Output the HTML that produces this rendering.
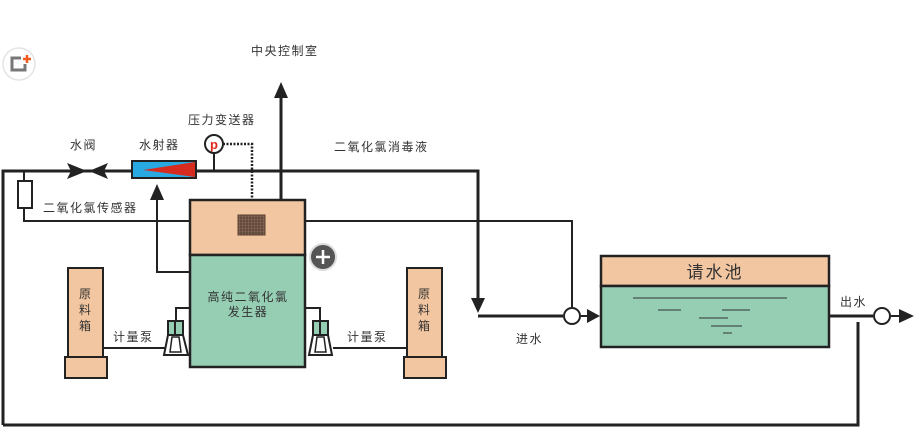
<!DOCTYPE html>
<html><head><meta charset="utf-8"><style>
body{margin:0;background:#fff;width:917px;height:432px;overflow:hidden}
svg{display:block}
text{font-family:"Liberation Sans","Noto Sans CJK SC",sans-serif;fill:#333;font-size:12px;letter-spacing:1.5px}
</style></head><body>
<svg width="917" height="432" viewBox="0 0 917 432">
<g stroke="#222" fill="none" stroke-width="3">
<path d="M3,425 V171 H478 V306"/>
<path d="M478,316 H563"/>
<path d="M3,425 H858 V322"/>
<path d="M829,316 H873"/>
<path d="M281,200 V95"/>
</g>
<g stroke="#222" fill="none" stroke-width="2">
<path d="M24,171 V181 M24,208 V221 H190"/>
<path d="M305,221 H572 V307"/>
<path d="M190,272 H157 V195"/>
<path d="M214,153 V171"/>
<path d="M190,308 H176 V321"/>
<path d="M305,308 H320 V321"/>
<path d="M103,348 H165 M407,348 H333"/>
<path d="M581,316 H588 M891,316 H900"/>
</g>
<path d="M223,144 H252 V200" stroke="#222" stroke-width="2.5" stroke-dasharray="2,1.5" fill="none"/>
<g fill="#222">
<polygon points="281,82 274,98 288,98"/>
<polygon points="157,184 150,200 164,200"/>
<polygon points="478,313 471,298 485,298"/>
<polygon points="600,316 587,309 587,323"/>
<polygon points="914,316 899,309 899,323"/>
<polygon points="87,171 67,163 71,171 67,179"/>
<polygon points="89,171 108,163 104,171 108,179"/>
</g>
<rect x="132" y="161" width="64" height="17" fill="#29a9e1" stroke="#222" stroke-width="2"/>
<polygon points="143,170 195,162 195,177" fill="#d62b1e"/>
<circle cx="214" cy="144" r="9" fill="#fff" stroke="#222" stroke-width="2"/>
<text x="214" y="149" text-anchor="middle" style="fill:#e0281b;font-weight:bold;font-size:13px;letter-spacing:0">p</text>
<rect x="18" y="181" width="14" height="27" fill="#fff" stroke="#222" stroke-width="2"/>
<rect x="190" y="200" width="115" height="55" fill="#f2c6a0" stroke="#222" stroke-width="2.5"/>
<rect x="190" y="255" width="115" height="112" fill="#96ceb4" stroke="#222" stroke-width="2.5"/>
<rect x="238" y="215" width="27" height="20" fill="#8a6a58" stroke="#5a4030" stroke-width="1"/>
<path d="M241,215V235M244,215V235M247,215V235M250,215V235M253,215V235M256,215V235M259,215V235M262,215V235M238,218H265M238,221H265M238,224H265M238,227H265M238,230H265M238,233H265" stroke="#3a2a20" stroke-width="0.6"/>
<text x="248" y="301" text-anchor="middle">高纯二氧化氯</text>
<text x="248" y="316" text-anchor="middle">发生器</text>
<rect x="68" y="268" width="35" height="89" fill="#f2c6a0" stroke="#222" stroke-width="2"/>
<rect x="65" y="357" width="42" height="21" fill="#f2c6a0" stroke="#222" stroke-width="2"/>
<rect x="407" y="268" width="35" height="89" fill="#f2c6a0" stroke="#222" stroke-width="2"/>
<rect x="404" y="357" width="42" height="21" fill="#f2c6a0" stroke="#222" stroke-width="2"/>
<text x="85" y="298" text-anchor="middle" style="letter-spacing:0">原</text>
<text x="85" y="314" text-anchor="middle" style="letter-spacing:0">料</text>
<text x="85" y="330" text-anchor="middle" style="letter-spacing:0">箱</text>
<text x="424" y="298" text-anchor="middle" style="letter-spacing:0">原</text>
<text x="424" y="314" text-anchor="middle" style="letter-spacing:0">料</text>
<text x="424" y="330" text-anchor="middle" style="letter-spacing:0">箱</text>
<g stroke="#222" stroke-width="2">
<rect x="168" y="321" width="15" height="14" fill="#96ceb4"/>
<path d="M175,321V335" />
<polygon points="168,335 183,335 188,355 164,355" fill="#fff"/>
<polygon points="172,337 179,337 181,352 170,352" fill="#fff" stroke-width="1.5"/>
<rect x="313" y="321" width="15" height="14" fill="#96ceb4"/>
<path d="M320,321V335"/>
<polygon points="313,335 328,335 332,355 309,355" fill="#fff"/>
<polygon points="317,337 324,337 326,352 315,352" fill="#fff" stroke-width="1.5"/>
</g>
<rect x="601" y="256" width="228" height="30" fill="#f2c6a0" stroke="#222" stroke-width="2.5"/>
<rect x="601" y="286" width="228" height="61" fill="#96ceb4" stroke="#222" stroke-width="2.5"/>
<text x="715" y="278" text-anchor="middle" style="font-size:17px;letter-spacing:2px">请水池</text>
<g stroke="#333" stroke-width="1">
<path d="M633,298H787M658,310H681M722,310H750M699,318H728M711,326H742M723,333H732"/>
</g>
<circle cx="572" cy="316" r="8" fill="#fff" stroke="#222" stroke-width="2"/>
<circle cx="882" cy="316" r="8" fill="#fff" stroke="#222" stroke-width="2"/>
<text x="251" y="55">中央控制室</text>
<text x="188" y="124">压力变送器</text>
<text x="70" y="149">水阀</text>
<text x="139" y="149">水射器</text>
<text x="334" y="151">二氧化氯消毒液</text>
<text x="43" y="212">二氧化氯传感器</text>
<text x="516" y="343">进水</text>
<text x="840" y="306">出水</text>
<text x="113" y="341">计量泵</text>
<text x="347" y="341">计量泵</text>
<circle cx="323" cy="257" r="13" fill="#555" stroke="#ddd" stroke-width="2"/>
<path d="M316,257H330M323,250V264" stroke="#fff" stroke-width="2.5"/>
<circle cx="19" cy="64" r="16" fill="#fff" stroke="#e4e4e4" stroke-width="1.5"/>
<path d="M21,58H12V70H25V64" stroke="#777" stroke-width="3" fill="none"/>
<path d="M23,59H31M27,55V63" stroke="#f25a1d" stroke-width="2.5"/>
</svg>
</body></html>
